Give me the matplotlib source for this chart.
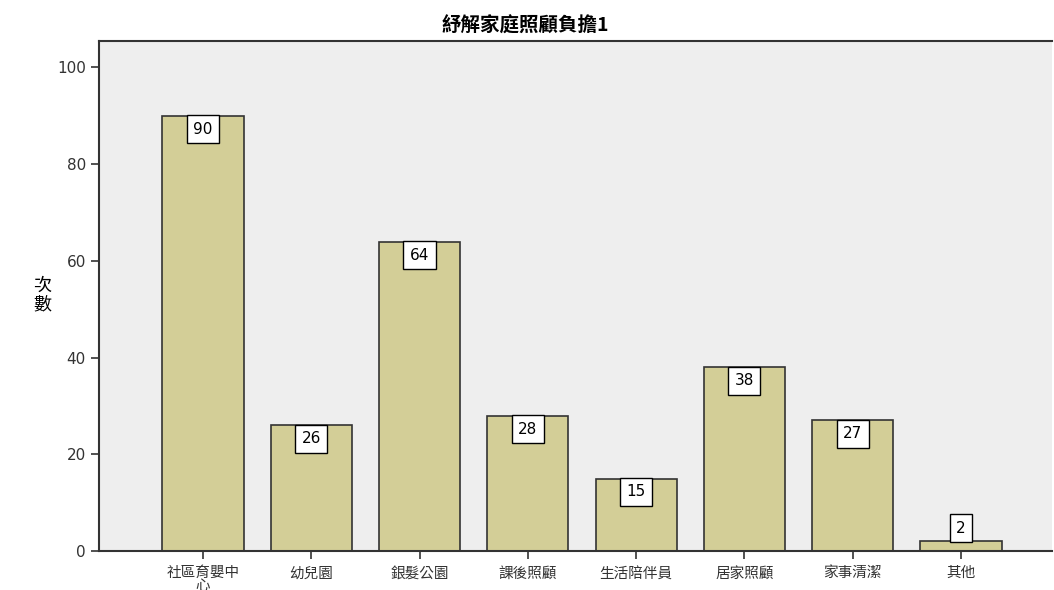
import matplotlib
matplotlib.use("Agg")
import matplotlib.pyplot as plt

plt.rcParams['font.family'] = ['Noto Sans CJK TC', 'DejaVu Sans']

categories = ["社區育嬰中\n心", "幼兒園", "銀髮公園", "課後照顧", "生活陪伴員", "居家照顧", "家事清潔", "其他"]
counts = [90, 26, 64, 28, 15, 38, 27, 2]

fig = plt.figure(figsize=(10.54, 5.9), dpi=100)
ax = fig.add_axes([0.094, 0.066, 0.904, 0.864])
ax.set_facecolor("#eeeeee")

x = list(range(len(categories)))
ax.bar(x, counts, width=0.75, color="#d3ce97", edgecolor="#333333", linewidth=1.2, zorder=2)

box = dict(boxstyle="square,pad=0.42", facecolor="white", edgecolor="black", linewidth=1)
for xi, v in zip(x, counts):
    if v < 5:
        # too short: label sits on top of the bar
        ax.annotate(str(v), (xi, v), xytext=(0, 4.2), textcoords="offset points",
                    ha="center", va="bottom", fontsize=11, family="DejaVu Sans", bbox=box, zorder=3)
    else:
        ax.annotate(str(v), (xi, v), xytext=(0, -4.3), textcoords="offset points",
                    ha="center", va="top", fontsize=11, family="DejaVu Sans", bbox=box, zorder=3)

ax.set_xlim(-0.96, 7.84)
ax.set_ylim(0, 105.4)
ax.set_yticks([0, 20, 40, 60, 80, 100])
ax.set_yticklabels(["0", "20", "40", "60", "80", "100"], family="DejaVu Sans", fontsize=11, color="#333333")
ax.set_xticks(x)
ax.set_xticklabels(categories, fontsize=10.5, color="#333333", linespacing=0.9)
ax.tick_params(axis="both", length=6, width=1.2, color="#333333")
ax.tick_params(axis="x", pad=5)

for side in ["left", "bottom", "top"]:
    ax.spines[side].set_linewidth(1.5)
    ax.spines[side].set_color("#333333")
ax.spines["right"].set_visible(False)

fig.text(0.040, 0.50, "次\n數", ha="center", va="center", fontsize=13, linespacing=1.0)
fig.text(0.498, 0.955, "紓解家庭照顧負擔1", ha="center", va="center", fontsize=14, fontweight="bold")

fig.savefig("out.png", dpi=100)
